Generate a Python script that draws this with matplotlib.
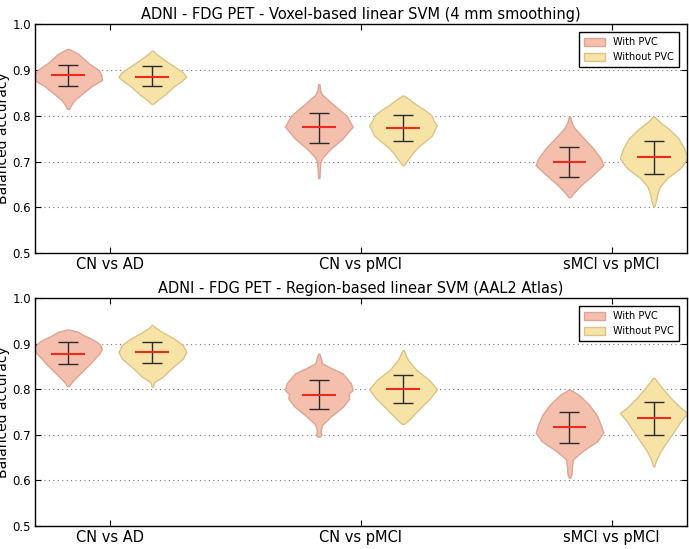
import numpy as np
import matplotlib
matplotlib.use("Agg")
import matplotlib.pyplot as plt
from matplotlib.patches import Patch

categories = ["CN vs AD", "CN vs pMCI", "sMCI vs pMCI"]
series_names = ["With PVC", "Without PVC"]
titles = ["ADNI - FDG PET - Voxel-based linear SVM (4 mm smoothing)",
          "ADNI - FDG PET - Region-based linear SVM (AAL2 Atlas)"]
ylabel = "Balanced accuracy"

# ---- Panel 1 (voxel-based) ----
# means and whisker ends (lower, upper)
p1_with_mean = [0.888, 0.775, 0.699]
p1_with_lo = [0.864, 0.741, 0.667]
p1_with_hi = [0.911, 0.807, 0.731]
p1_without_mean = [0.885, 0.774, 0.709]
p1_without_lo = [0.864, 0.745, 0.672]
p1_without_hi = [0.908, 0.801, 0.745]

# violin profiles: accuracy values and relative density width
p1_with_coords = [
    [0.815, 0.825, 0.835, 0.85, 0.865, 0.878, 0.89, 0.90, 0.915, 0.925, 0.935, 0.946],
    [0.664, 0.68, 0.70, 0.71, 0.728, 0.75, 0.776, 0.80, 0.823, 0.846, 0.855, 0.869],
    [0.622, 0.631, 0.649, 0.67, 0.692, 0.707, 0.729, 0.751, 0.773, 0.785, 0.798],
]
p1_with_dens = [
    [0.03, 0.1, 0.2, 0.45, 0.7, 1.0, 0.98, 0.9, 0.6, 0.45, 0.3, 0.02],
    [0.02, 0.03, 0.05, 0.12, 0.35, 0.7, 1.0, 0.82, 0.45, 0.1, 0.04, 0.02],
    [0.03, 0.12, 0.35, 0.68, 1.0, 0.92, 0.7, 0.42, 0.15, 0.06, 0.02],
]
p1_without_coords = [
    [0.826, 0.834, 0.845, 0.855, 0.865, 0.875, 0.885, 0.895, 0.905, 0.915, 0.925, 0.935, 0.942],
    [0.692, 0.70, 0.71, 0.72, 0.732, 0.742, 0.757, 0.768, 0.779, 0.79, 0.801, 0.812, 0.823, 0.835, 0.844],
    [0.602, 0.615, 0.627, 0.645, 0.664, 0.685, 0.707, 0.729, 0.751, 0.773, 0.785, 0.798],
]
p1_without_dens = [
    [0.03, 0.15, 0.35, 0.5, 0.65, 0.85, 1.0, 0.9, 0.7, 0.5, 0.3, 0.12, 0.02],
    [0.02, 0.1, 0.2, 0.3, 0.45, 0.62, 0.86, 0.92, 1.0, 0.9, 0.84, 0.65, 0.42, 0.2, 0.02],
    [0.02, 0.07, 0.1, 0.18, 0.4, 0.78, 1.0, 0.9, 0.73, 0.42, 0.2, 0.02],
]

# ---- Panel 2 (region-based) ----
p2_with_mean = [0.878, 0.788, 0.717]
p2_with_lo = [0.855, 0.756, 0.682]
p2_with_hi = [0.903, 0.820, 0.751]
p2_without_mean = [0.881, 0.800, 0.736]
p2_without_lo = [0.858, 0.769, 0.699]
p2_without_hi = [0.904, 0.831, 0.771]

p2_with_coords = [
    [0.807, 0.815, 0.823, 0.834, 0.845, 0.856, 0.867, 0.878, 0.889, 0.897, 0.904, 0.912, 0.919, 0.926, 0.931],
    [0.696, 0.700, 0.706, 0.711, 0.722, 0.74, 0.762, 0.78, 0.79, 0.798, 0.813, 0.835, 0.847, 0.857, 0.868, 0.878],
    [0.606, 0.615, 0.628, 0.646, 0.664, 0.686, 0.705, 0.723, 0.744, 0.766, 0.788, 0.799],
]
p2_with_dens = [
    [0.03, 0.1, 0.2, 0.35, 0.5, 0.65, 0.78, 0.92, 1.0, 0.95, 0.85, 0.65, 0.45, 0.3, 0.02],
    [0.03, 0.08, 0.06, 0.06, 0.1, 0.35, 0.72, 0.9, 0.88, 1.0, 0.95, 0.7, 0.35, 0.1, 0.06, 0.02],
    [0.02, 0.06, 0.07, 0.1, 0.38, 0.82, 1.0, 0.92, 0.8, 0.58, 0.27, 0.03],
]
p2_without_coords = [
    [0.806, 0.816, 0.827, 0.845, 0.867, 0.882, 0.897, 0.911, 0.926, 0.935, 0.941],
    [0.724, 0.728, 0.735, 0.743, 0.752, 0.762, 0.78, 0.80, 0.82, 0.842, 0.864, 0.875, 0.886],
    [0.631, 0.640, 0.649, 0.664, 0.686, 0.708, 0.730, 0.748, 0.759, 0.781, 0.803, 0.815, 0.825],
]
p2_without_dens = [
    [0.02, 0.06, 0.3, 0.55, 0.9, 1.0, 0.9, 0.65, 0.28, 0.1, 0.02],
    [0.03, 0.1, 0.2, 0.3, 0.42, 0.55, 0.8, 1.0, 0.78, 0.4, 0.15, 0.08, 0.02],
    [0.02, 0.05, 0.1, 0.2, 0.4, 0.6, 0.8, 1.0, 0.8, 0.5, 0.25, 0.12, 0.02],
]

yticks = [0.5, 0.6, 0.7, 0.8, 0.9, 1.0]
ytick_labels = ["0.5", "0.6", "0.7", "0.8", "0.9", "1.0"]

face_colors = ["#f5bfae", "#f7e3a6"]
edge_colors = ["#dca494", "#d9c38c"]

panels = [
    dict(title=titles[0],
         series=[(p1_with_coords, p1_with_dens, p1_with_mean, p1_with_lo, p1_with_hi),
                 (p1_without_coords, p1_without_dens, p1_without_mean, p1_without_lo, p1_without_hi)]),
    dict(title=titles[1],
         series=[(p2_with_coords, p2_with_dens, p2_with_mean, p2_with_lo, p2_with_hi),
                 (p2_without_coords, p2_without_dens, p2_without_mean, p2_without_lo, p2_without_hi)]),
]

fig = plt.figure(figsize=(6.89, 5.49), dpi=100)
ax_rects = [[0.0508, 0.539, 0.946, 0.417], [0.0508, 0.042, 0.946, 0.415]]

offsets = [-0.168, 0.168]
vwidth = 0.27
x = np.arange(len(categories))

for rect, panel in zip(ax_rects, panels):
    ax = fig.add_axes(rect)
    ax.set_axisbelow(True)
    ax.yaxis.grid(True, linestyle=(0, (1, 3)), color="#777777", linewidth=0.8)
    for si, (coords, dens, means, los, his) in enumerate(panel["series"]):
        stats = []
        for c, d, m in zip(coords, dens, means):
            c = np.asarray(c); d = np.asarray(d)
            stats.append(dict(coords=c, vals=d, mean=m, median=m, min=c.min(), max=c.max()))
        pos = x + offsets[si]
        parts = ax.violin(stats, positions=pos, widths=vwidth,
                          showmeans=True, showextrema=False, showmedians=False)
        for b in parts["bodies"]:
            b.set_facecolor(face_colors[si])
            b.set_edgecolor(edge_colors[si])
            b.set_alpha(1.0)
            b.set_linewidth(1.0)
        parts["cmeans"].set_color("#ee2a1c")
        parts["cmeans"].set_linewidth(1.5)
        parts["cmeans"].set_zorder(4)
        means_a = np.asarray(means)
        yerr = [means_a - np.asarray(los), np.asarray(his) - means_a]
        ax.errorbar(pos, means_a, yerr=yerr, fmt="none", ecolor="#2a2a2a",
                    elinewidth=1.0, capsize=7, capthick=1.0, zorder=3)
    ax.set_xlim(-0.3, 2.3)
    ax.set_ylim(0.5, 1.0)
    ax.set_xticks(x)
    ax.set_xticklabels(categories, fontsize=10.5)
    ax.set_yticks(yticks)
    ax.set_yticklabels(ytick_labels, fontsize=8.5)
    ax.tick_params(direction="in", top=True, right=True, length=4, width=0.8, pad=3)
    for sp in ax.spines.values():
        sp.set_linewidth(1.0)
        sp.set_color("black")
    ax.set_title(panel["title"], fontsize=10.5, pad=4)
    ax.set_ylabel(ylabel, fontsize=10)
    ax.yaxis.set_label_coords(-0.0376, 0.5)
    handles = [Patch(facecolor=face_colors[i], edgecolor=edge_colors[i], label=series_names[i])
               for i in range(2)]
    leg = ax.legend(handles=handles, loc="upper right", fontsize=7, fancybox=False,
                    framealpha=1, edgecolor="black", handlelength=2.2, handleheight=0.9,
                    borderpad=0.5, labelspacing=0.5, bbox_to_anchor=(0.995, 0.985))
    leg.get_frame().set_linewidth(1.0)

fig.savefig("out.png", dpi=100)
